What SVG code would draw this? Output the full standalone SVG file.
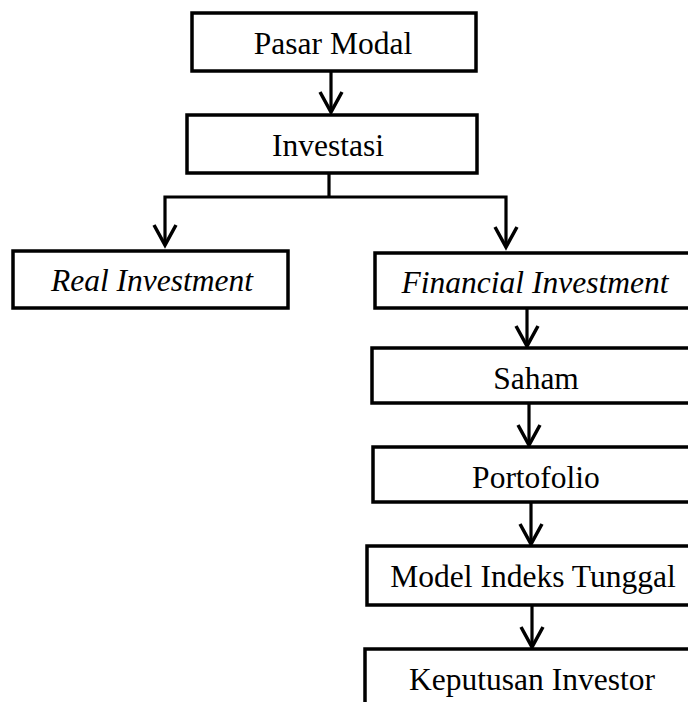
<svg xmlns="http://www.w3.org/2000/svg" width="688" height="702" viewBox="0 0 688 702">
<style>
.box{fill:#fff;stroke:#000;stroke-width:3.5}
.t{font-family:"Liberation Serif","Times New Roman",serif;font-size:31.5px;fill:#000;text-anchor:middle}
.i{font-style:italic}
.c{fill:none;stroke:#000;stroke-width:3.2}
</style>
<defs>
<marker id="ah" markerUnits="userSpaceOnUse" markerWidth="30" markerHeight="30" refX="20" refY="11" orient="auto" overflow="visible">
<path d="M0,0 L20,11 L0,22" fill="none" stroke="#000" stroke-width="3.5"/>
</marker>
</defs>
<rect width="688" height="702" fill="#fff"/>
<g id="connectors">
<path class="c" d="M331,71 V112" marker-end="url(#ah)"/>
<path class="c" d="M329,173 V197"/>
<path class="c" d="M329,197 H165 V245" marker-end="url(#ah)"/>
<path class="c" d="M329,197 H506 V247" marker-end="url(#ah)"/>
<path class="c" d="M527,308 V346" marker-end="url(#ah)"/>
<path class="c" d="M529,403 V445" marker-end="url(#ah)"/>
<path class="c" d="M531,502 V544" marker-end="url(#ah)"/>
<path class="c" d="M532,605 V647" marker-end="url(#ah)"/>
</g>
<g id="pasar-modal"><rect class="box" x="192" y="13" width="284" height="58"/><text class="t" x="333" y="54">Pasar Modal</text></g>
<g id="investasi"><rect class="box" x="187" y="115" width="290" height="58"/><text class="t" x="328" y="156">Investasi</text></g>
<g id="real-investment"><rect class="box" x="13" y="251" width="275" height="57"/><text class="t i" x="152" y="291">Real Investment</text></g>
<g id="financial-investment"><rect class="box" x="375" y="253" width="330" height="55"/><text class="t i" x="535" y="293">Financial Investment</text></g>
<g id="saham"><rect class="box" x="372" y="348" width="330" height="55"/><text class="t" x="536" y="389">Saham</text></g>
<g id="portofolio"><rect class="box" x="373" y="447" width="330" height="55"/><text class="t" x="536" y="488">Portofolio</text></g>
<g id="model-indeks-tunggal"><rect class="box" x="367" y="546" width="340" height="59"/><text class="t" x="533" y="587">Model Indeks Tunggal</text></g>
<g id="keputusan-investor"><rect class="box" x="365" y="649" width="340" height="70"/><text class="t" x="532" y="690">Keputusan Investor</text></g>
</svg>
